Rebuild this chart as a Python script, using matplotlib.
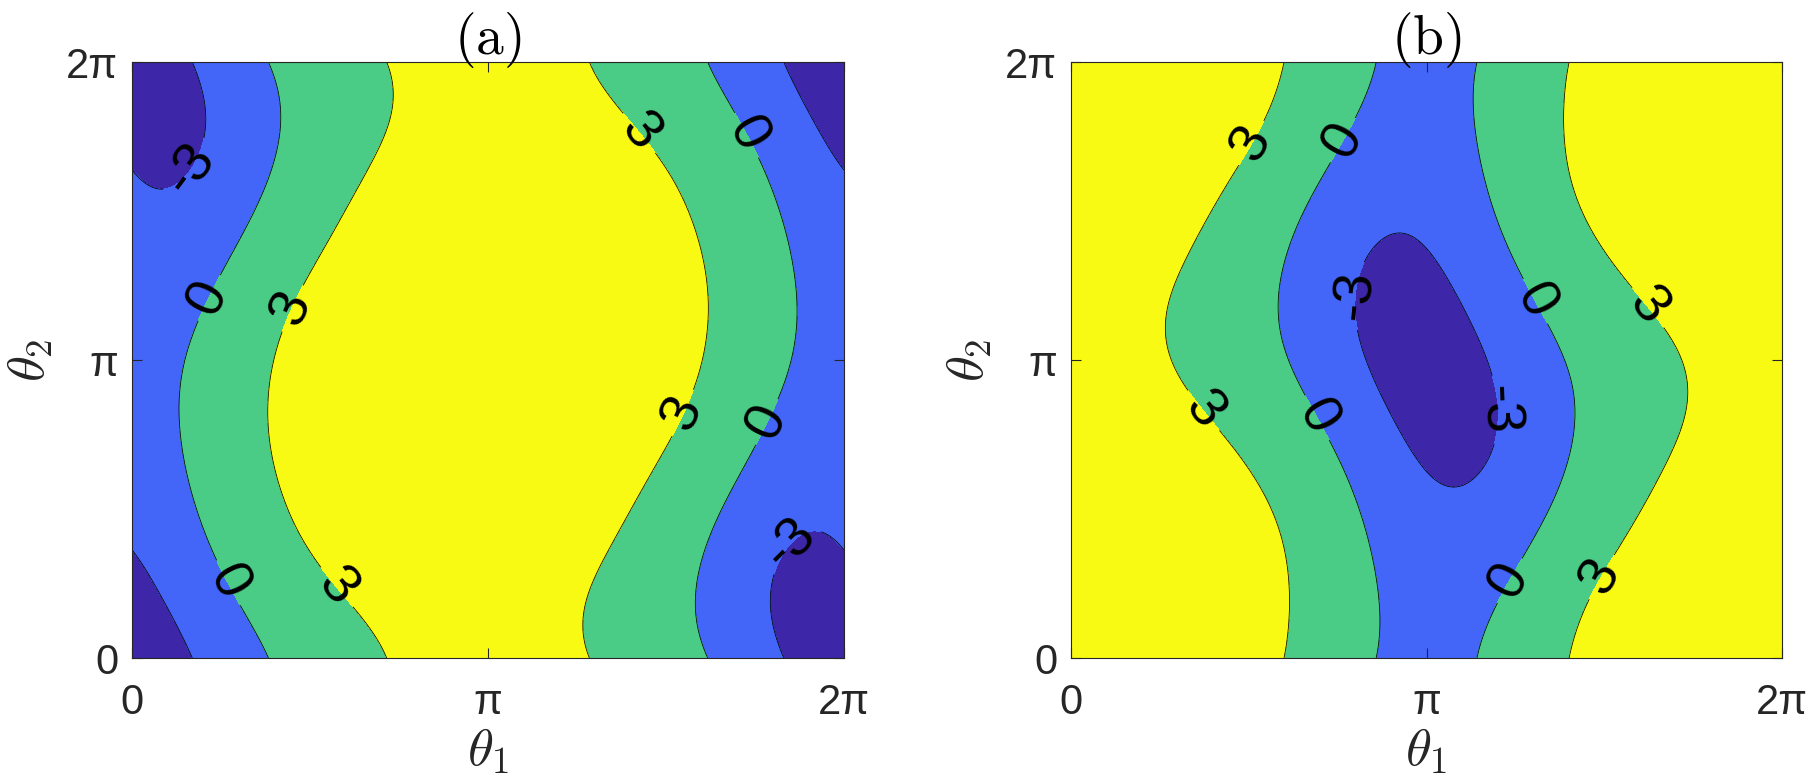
import numpy as np
import matplotlib.pyplot as plt

plt.rcParams['font.family'] = ['Liberation Sans', 'DejaVu Sans']
plt.rcParams['mathtext.fontset'] = 'cm'

# contour levels and the fill colours of the four regions
levels = [-3, 0, 3]
colors = ['#3e26a8', '#4366f9', '#4acb86', '#f9fa14']
tick_labels = ['0', 'π', '2π']

# contour lines, points as (theta1/pi, theta2/pi)
# panel (a)
a_m3 = [(0.173, 2.0), (0.192, 1.936), (0.206, 1.834), (0.192, 1.707), (0.150, 1.617),
        (0.075, 1.575), (0.0, 1.630), (0.0, 0.367), (0.056, 0.265), (0.112, 0.150),
        (0.169, 0.0), (2.0, 0.355), (1.927, 0.429), (1.843, 0.380), (1.805, 0.278),
        (1.796, 0.150), (1.815, 0.0), (1.833, 2.0), (1.880, 1.885), (1.936, 1.758),
        (2.0, 1.643)]
a_0 = [(0.386, 2.0), (0.412, 1.885), (0.417, 1.809), (0.403, 1.668), (0.365, 1.554),
       (0.309, 1.426), (0.243, 1.286), (0.187, 1.133), (0.145, 1.005), (0.131, 0.852),
       (0.140, 0.724), (0.173, 0.546), (0.225, 0.367), (0.281, 0.214), (0.318, 0.138),
       (0.384, 0.0),
       (1.623, 2.0), (1.693, 1.821), (1.749, 1.707), (1.805, 1.554), (1.847, 1.388),
       (1.869, 1.209), (1.861, 1.082), (1.833, 0.941), (1.787, 0.801), (1.712, 0.635),
       (1.646, 0.482), (1.599, 0.316), (1.588, 0.163), (1.613, 0.0)]
a_3 = [(0.721, 2.0), (0.732, 1.923), (0.726, 1.834), (0.693, 1.719), (0.637, 1.605),
       (0.562, 1.452), (0.487, 1.260), (0.435, 1.133), (0.398, 0.992), (0.382, 0.827),
       (0.393, 0.686), (0.431, 0.533), (0.487, 0.393), (0.562, 0.265), (0.637, 0.163),
       (0.693, 0.074), (0.716, 0.0),
       (1.286, 2.0), (1.337, 1.911), (1.403, 1.821), (1.468, 1.707), (1.524, 1.592),
       (1.581, 1.464), (1.613, 1.311), (1.620, 1.184), (1.609, 1.031), (1.571, 0.878),
       (1.506, 0.712), (1.403, 0.533), (1.318, 0.342), (1.272, 0.176), (1.276, 0.0)]
# rough values inside the outermost regions (theta1/pi, theta2/pi, value)
a_inner = [(1.0, 1.0, 4.8), (1.0, 0.5, 4.4), (1.0, 1.5, 4.4), (1.0, 0.0, 4.0),
           (0.7, 1.0, 4.0), (1.3, 1.0, 4.0), (0.0, 0.0, -4.0)]

# panel (b)
b_m3 = [(0.918, 1.429), (0.843, 1.375), (0.805, 1.260), (0.796, 1.133), (0.815, 1.031),
        (0.871, 0.878), (0.936, 0.750), (1.0, 0.632), (1.0, 1.375), (1.075, 1.247),
        (1.140, 1.107), (1.187, 0.941), (1.192, 0.776), (1.169, 0.648), (1.080, 0.574)]
b_0 = [(0.852, 2.0), (0.815, 1.860), (0.740, 1.694), (0.655, 1.515), (0.599, 1.362),
       (0.582, 1.209), (0.599, 1.043), (0.646, 0.916), (0.712, 0.763), (0.787, 0.571),
       (0.833, 0.406), (0.861, 0.214), (0.860, 0.0),
       (1.140, 2.0), (1.131, 1.809), (1.159, 1.617), (1.215, 1.426), (1.272, 1.260),
       (1.346, 1.107), (1.398, 0.980), (1.412, 0.852), (1.403, 0.724), (1.365, 0.571),
       (1.290, 0.393), (1.215, 0.227), (1.169, 0.112), (1.140, 0.0)]
b_3 = [(0.595, 2.0), (0.562, 1.860), (0.506, 1.732), (0.431, 1.579), (0.346, 1.401),
       (0.281, 1.235), (0.262, 1.107), (0.290, 0.967), (0.356, 0.865), (0.421, 0.763),
       (0.496, 0.648), (0.562, 0.508), (0.604, 0.342), (0.616, 0.189), (0.599, 0.0),
       (1.398, 2.0), (1.382, 1.809), (1.403, 1.617), (1.468, 1.439), (1.562, 1.273),
       (1.655, 1.133), (1.721, 1.005), (1.732, 0.903), (1.712, 0.776), (1.646, 0.597),
       (1.562, 0.418), (1.487, 0.278), (1.431, 0.138), (1.404, 0.0)]
b_inner = [(0.0, 0.0, 4.8), (0.0, 0.5, 4.4), (0.0, 1.5, 4.4), (0.0, 1.0, 4.0),
           (1.0, 1.0, -4.0)]

# where the contour labels sit (theta1/pi, theta2/pi)
a_label_pos = [(0.159, 1.643), (1.871, 0.361), (0.215, 1.209), (0.272, 0.253),
               (1.721, 1.751), (1.791, 0.788), (0.454, 1.171), (0.571, 0.233),
               (1.421, 1.758), (1.552, 0.820)]
b_label_pos = [(0.510, 1.726), (0.370, 0.827), (1.618, 1.171), (1.492, 0.272),
               (0.763, 1.739), (0.693, 0.807), (1.295, 1.190), (1.234, 0.259),
               (0.805, 1.216), (1.192, 0.833)]


def fit_field(curves, inner, order=3, ridge=0.02):
    # smooth periodic surface through the traced level curves (cosine series)
    pts, vals = [], []
    for lev, curve in zip(levels, curves):
        for u, v in curve:
            pts.append((u * np.pi, v * np.pi))
            vals.append(lev)
    for u, v, val in inner:
        pts.append((u * np.pi, v * np.pi))
        vals.append(val)
    pts = np.array(pts)
    vals = np.array(vals, dtype=float)
    modes = [(0, n) for n in range(1, order + 1)]
    modes += [(m, n) for m in range(1, order + 1) for n in range(-order, order + 1)]

    def design(t1, t2):
        cols = [np.ones_like(t1)] + [np.cos(m * t1 + n * t2) for m, n in modes]
        return np.stack(cols, axis=-1)

    A = design(pts[:, 0], pts[:, 1])
    pen = np.diag([0.0] + [ridge * (m * m + n * n) for m, n in modes])
    coef = np.linalg.solve(A.T @ A + pen, A.T @ vals)
    return lambda t1, t2: design(t1, t2) @ coef


t = np.linspace(0, 2 * np.pi, 401)
T1, T2 = np.meshgrid(t, t)

fig = plt.figure(figsize=(18.19, 7.79), dpi=100)
ax_a = fig.add_axes([0.0726, 0.1553, 0.3914, 0.7651])
ax_b = fig.add_axes([0.5888, 0.1553, 0.3909, 0.7651])

panels = [(ax_a, [a_m3, a_0, a_3], a_inner, a_label_pos, '(a)'),
          (ax_b, [b_m3, b_0, b_3], b_inner, b_label_pos, '(b)')]

for ax, curves, inner, label_pos, title in panels:
    f = fit_field(curves, inner)
    Z = f(T1, T2)
    bounds = [Z.min() - 1] + levels + [Z.max() + 1]
    ax.contourf(T1, T2, Z, levels=bounds, colors=colors)
    cs = ax.contour(T1, T2, Z, levels=levels, colors='k', linewidths=0.55,
                    linestyles='solid')
    pos = [(u * np.pi, v * np.pi) for u, v in label_pos]
    texts = ax.clabel(cs, manual=pos, inline=True, inline_spacing=10,
                      fmt={-3: '-3', 0: '0', 3: '3'}, fontsize=40)
    for tx in texts:
        tx.set_fontweight('medium')

    ax.set_xlim(0, 2 * np.pi)
    ax.set_ylim(0, 2 * np.pi)
    ax.set_xticks([0, np.pi, 2 * np.pi])
    ax.set_yticks([0, np.pi, 2 * np.pi])
    ax.set_xticklabels(tick_labels)
    ax.set_yticklabels(tick_labels)
    ax.tick_params(direction='in', top=True, right=True, length=7, width=0.8,
                   labelsize=30, colors='#262626')
    ax.tick_params(axis='x', pad=18)
    ax.tick_params(axis='y', pad=10)
    for sp in ax.spines.values():
        sp.set_linewidth(0.8)
        sp.set_color('#262626')

    ax.set_xlabel(r'$\theta_1$', fontsize=38, labelpad=2, color='#262626')
    ax.set_ylabel(r'$\theta_2$', fontsize=38, labelpad=8, color='#262626')
    ax.set_title(r'$\mathrm{' + title + '}$', fontsize=40, pad=6)

fig.savefig('out.png', dpi=100)
